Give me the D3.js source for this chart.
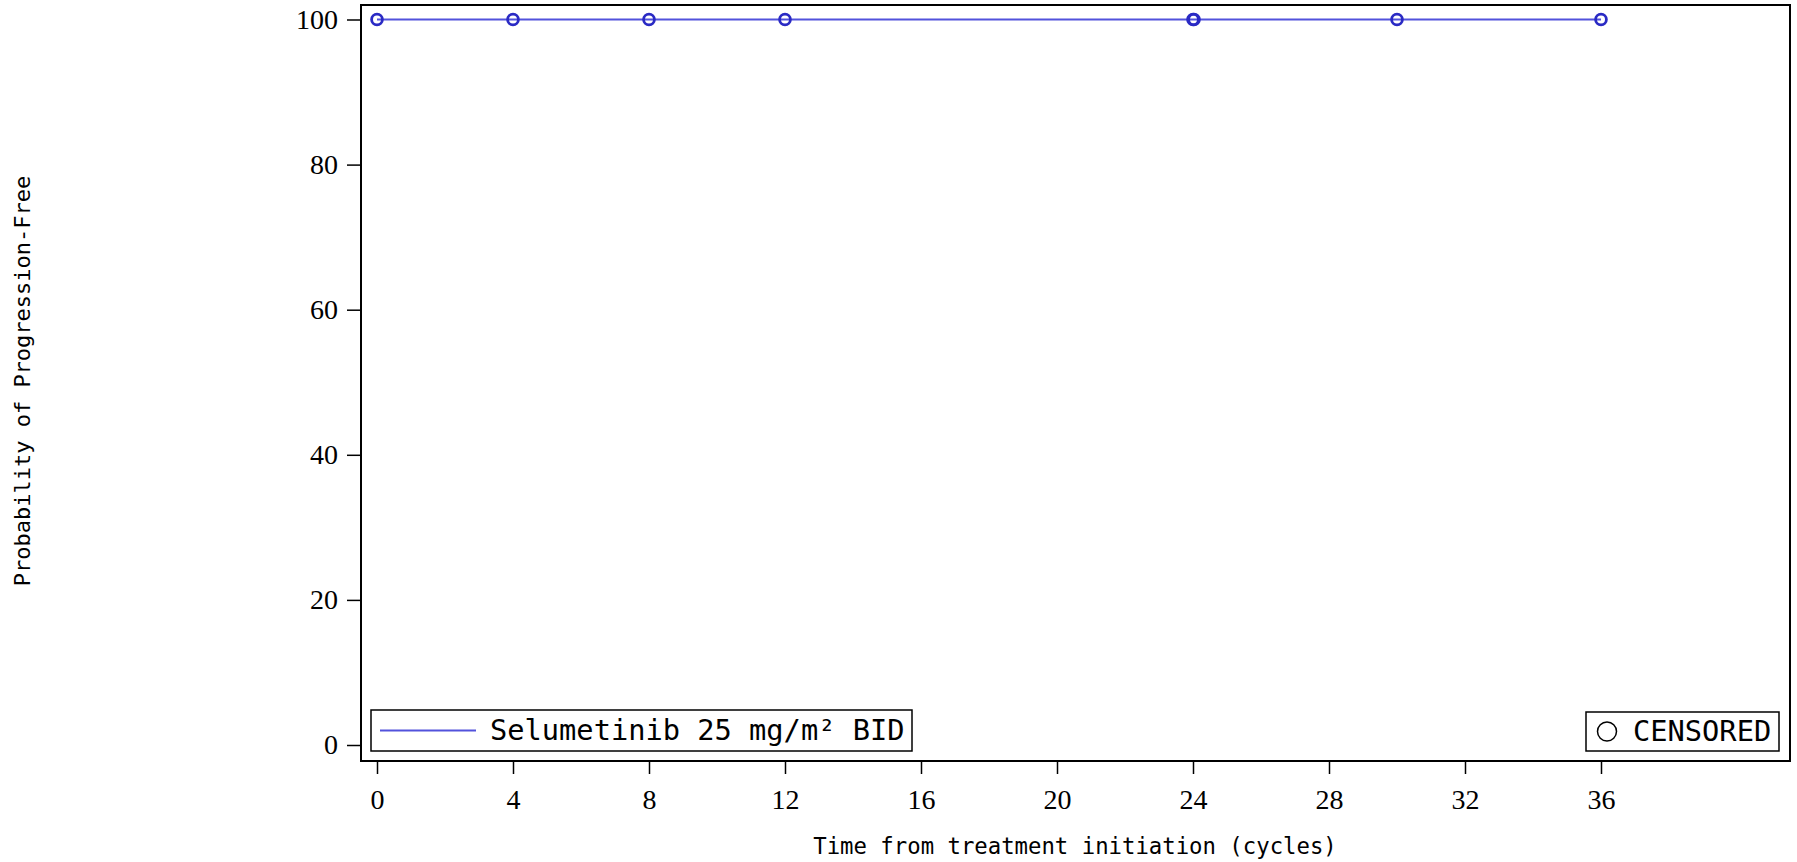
<!DOCTYPE html>
<html><head><meta charset="utf-8">
<script src="https://cdn.jsdelivr.net/npm/d3@7"></script>
<style>body{margin:0;background:#fff}svg{display:block}</style>
</head><body>
<script>
const seriesName = "Selumetinib 25 mg/m² BID";
const stepTimes = [0, 36];
const stepSurv = [100, 100];
const censorTimes = [0, 4, 8, 12, 24, 24.03, 30, 36];
const censorSurv = [100, 100, 100, 100, 100, 100, 100, 100];
const xTicks = [0, 4, 8, 12, 16, 20, 24, 28, 32, 36];
const yTicks = [0, 20, 40, 60, 80, 100];

const W = 1797, H = 862;
const frame = {l: 361, t: 5, r: 1790, b: 761};
const svg = d3.select("body").append("svg").attr("width", W).attr("height", H);

const x = d3.scaleLinear().domain([0, 36]).range([377, 1601]);
const y = d3.scaleLinear().domain([0, 100]).range([745, 19.5]);

const lineCol = "#5252dc", markCol = "#2a2ac4";

// frame
svg.append("rect").attr("x", frame.l).attr("y", frame.t)
  .attr("width", frame.r - frame.l).attr("height", frame.b - frame.t)
  .attr("fill", "none").attr("stroke", "#000").attr("stroke-width", 2);

// axes
const yAxis = d3.axisLeft(y).tickValues(yTicks).tickSize(14).tickPadding(9);
const gy = svg.append("g").attr("transform", `translate(${frame.l},0)`).call(yAxis);
gy.select(".domain").remove();
gy.selectAll("line").attr("stroke", "#000").attr("stroke-width", 1.5);
gy.selectAll("text").attr("font-family", "Liberation Serif, serif").attr("font-size", 28).attr("fill", "#000");

const xAxis = d3.axisBottom(x).tickValues(xTicks).tickSize(13).tickPadding(15);
const gx = svg.append("g").attr("transform", `translate(0,${frame.b})`).call(xAxis);
gx.select(".domain").remove();
gx.selectAll("line").attr("stroke", "#000").attr("stroke-width", 1.5);
gx.selectAll("text").attr("font-family", "Liberation Serif, serif").attr("font-size", 28).attr("fill", "#000");

// axis titles
svg.append("text").attr("x", 1075).attr("y", 854)
  .attr("text-anchor", "middle").attr("font-family", "DejaVu Sans Mono, monospace")
  .attr("font-size", 22.3).text("Time from treatment initiation (cycles)");
svg.append("text").attr("transform", "translate(30,381) rotate(-90)")
  .attr("text-anchor", "middle").attr("font-family", "DejaVu Sans Mono, monospace")
  .attr("font-size", 22).text("Probability of Progression-Free");

// survival step line
const pts = stepTimes.map((t, i) => [t, stepSurv[i]]);
svg.append("path").datum(pts)
  .attr("d", d3.line().curve(d3.curveStepAfter).x(d => x(d[0])).y(d => y(d[1])))
  .attr("fill", "none").attr("stroke", lineCol).attr("stroke-width", 2);

// censor markers
svg.selectAll("circle.cens").data(censorTimes.map((t, i) => [t, censorSurv[i]]))
  .enter().append("circle").attr("class", "cens")
  .attr("cx", d => x(d[0])).attr("cy", d => y(d[1])).attr("r", 5.4)
  .attr("fill", "none").attr("stroke", markCol).attr("stroke-width", 2.8);

// legend 1
const lg = svg.append("g");
lg.append("rect").attr("x", 371).attr("y", 710).attr("width", 541).attr("height", 41)
  .attr("fill", "#fff").attr("stroke", "#000").attr("stroke-width", 1.5);
lg.append("line").attr("x1", 380).attr("x2", 476).attr("y1", 730.5).attr("y2", 730.5)
  .attr("stroke", lineCol).attr("stroke-width", 2);
lg.append("text").attr("x", 490).attr("y", 740).attr("font-family", "DejaVu Sans Mono, monospace")
  .attr("font-size", 28.7).text(seriesName);

// legend 2
const lg2 = svg.append("g");
lg2.append("rect").attr("x", 1586).attr("y", 712).attr("width", 193).attr("height", 39)
  .attr("fill", "#fff").attr("stroke", "#000").attr("stroke-width", 1.5);
lg2.append("circle").attr("cx", 1607).attr("cy", 731.5).attr("r", 9.5)
  .attr("fill", "none").attr("stroke", "#000").attr("stroke-width", 1.5);
lg2.append("text").attr("x", 1633).attr("y", 741).attr("font-family", "DejaVu Sans Mono, monospace")
  .attr("font-size", 28.7).text("CENSORED");
</script>
</body></html>
